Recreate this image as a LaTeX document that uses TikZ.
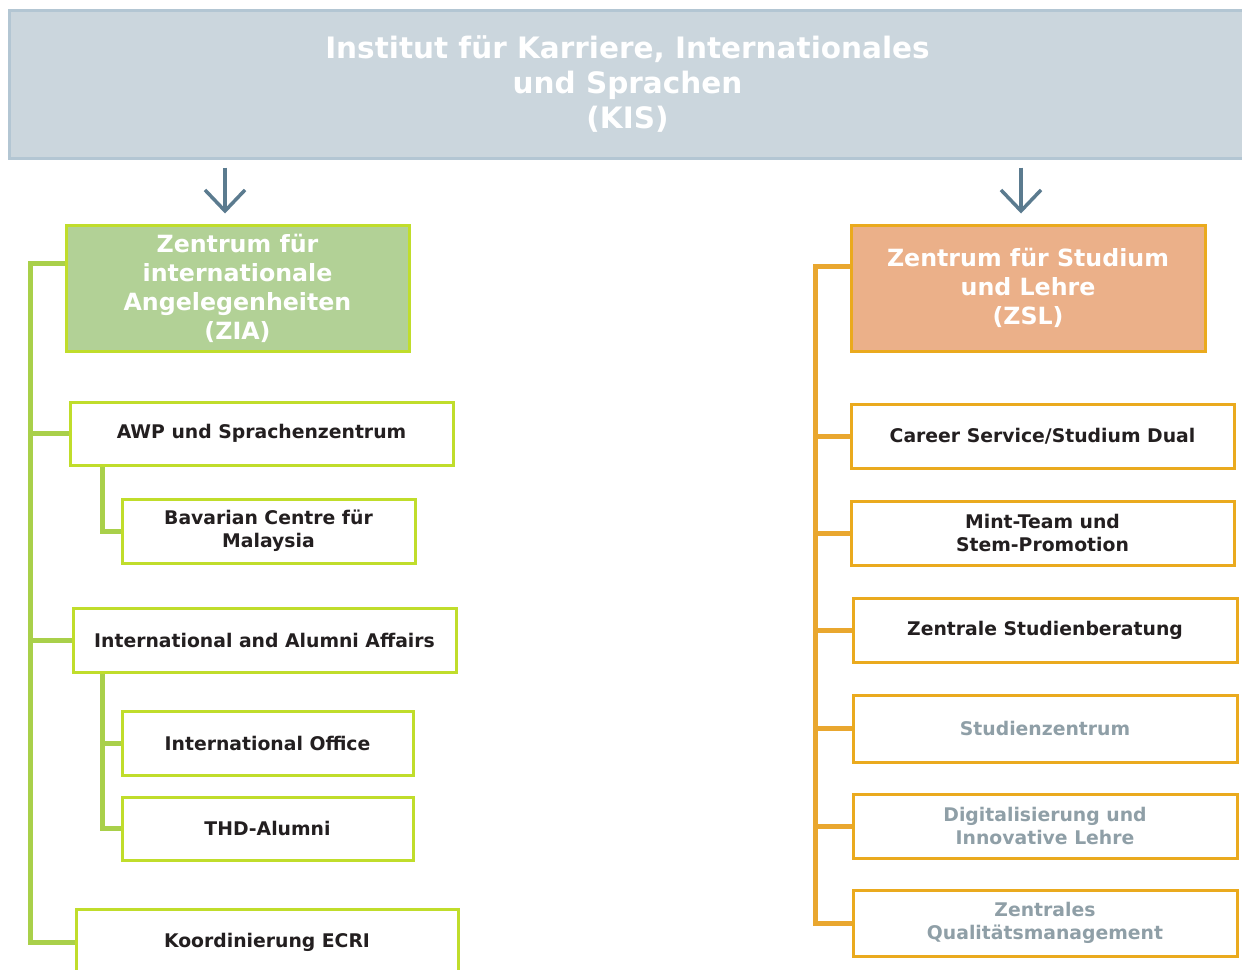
\documentclass[tikz,border=0pt]{standalone}
\usepackage{fontspec}
\setmainfont{DejaVu Sans}
\usetikzlibrary{arrows.meta}

\definecolor{kisfill}{HTML}{CBD6DD}
\definecolor{kisline}{HTML}{B3C6D3}
\definecolor{kisarrow}{HTML}{5B7B8F}
\definecolor{ziafill}{HTML}{B2D196}
\definecolor{zialine}{HTML}{C0DD2B}
\definecolor{ziatrunk}{HTML}{A9D04A}
\definecolor{zslfill}{HTML}{EBB089}
\definecolor{zslline}{HTML}{EAAA1E}
\definecolor{zsltrunk}{HTML}{E9A72F}
\definecolor{unittext}{HTML}{231F20}
\definecolor{greytext}{HTML}{8F9FA7}

\begin{document}
\begin{tikzpicture}[
                    x=1pt, y=-1pt,
                    >={Straight Barb[length=21pt,width=40pt]},
                    kisbox/.style={draw=kisline, line width=3pt, fill=kisfill,
                        text=white, align=center, inner sep=0pt,
                        font=\bfseries\fontsize{29.5}{35}\selectfont},
                    headbox/.style={line width=3pt, text=white, align=center, inner sep=0pt,
                        font=\bfseries\fontsize{23.7}{29}\selectfont},
                    unitbox/.style={line width=3pt, fill=white, text=unittext, align=center,
                        inner sep=0pt, font=\bfseries\fontsize{18.8}{23}\selectfont},
                    ziaunit/.style={unitbox, draw=zialine},
                    zslunit/.style={unitbox, draw=zslline},
                    later/.style={text=greytext},
                    ziatree/.style={draw=ziatrunk, line width=5pt},
                    zsltree/.style={draw=zsltrunk, line width=5pt},
                    kisdrop/.style={->, draw=kisarrow, line width=3.5pt,
                        shorten <=8pt, shorten >=10pt},
                ]
                \useasboundingbox (0,0) rectangle (1242,969);

                % institute
                \node[kisbox, minimum width=1237, minimum height=148] (kis) at (627.5,84)
                    {Institut für Karriere, Internationales\\und Sprachen\\(KIS)};

                % the two centres
                \node[headbox, draw=zialine, fill=ziafill, minimum width=343, minimum height=126]
                    (zia) at (237.5,288) {Zentrum für\\internationale\\Angelegenheiten\\(ZIA)};
                \node[headbox, draw=zslline, fill=zslfill, minimum width=354, minimum height=126]
                    (zsl) at (1028,288) {Zentrum für Studium\\und Lehre\\(ZSL)};

                \coordinate (ziadrop) at (225,0);
                \coordinate (zsldrop) at (1021,0);
                \draw[kisdrop] (kis.south -| ziadrop) -- (zia.north -| ziadrop);
                \draw[kisdrop] (kis.south -| zsldrop) -- (zsl.north -| zsldrop);

                % ZIA units
                \node[ziaunit, minimum width=383, minimum height=63] (awp) at (261.5,433.5)
                    {AWP und Sprachenzentrum};
                \node[ziaunit, minimum width=293, minimum height=64] (bcm) at (268.5,531)
                    {Bavarian Centre für\\Malaysia};
                \node[ziaunit, minimum width=383, minimum height=64] (iaa) at (264.5,640)
                    {International and Alumni Affairs};
                \node[ziaunit, minimum width=291, minimum height=64] (io) at (267.5,743)
                    {International Office};
                \node[ziaunit, minimum width=291, minimum height=63] (thd) at (267.5,828.5)
                    {THD-Alumni};
                \node[ziaunit, minimum width=382, minimum height=66] (ecri) at (267,942)
                    {Koordinierung ECRI};

                % ZSL units
                \node[zslunit, minimum width=383, minimum height=64] (career) at (1042.5,436)
                    {Career Service/Studium Dual};
                \node[zslunit, minimum width=383, minimum height=64] (mint) at (1042.5,533)
                    {Mint-Team und\\Stem-Promotion};
                \node[zslunit, minimum width=384, minimum height=64] (zsb) at (1045,630)
                    {Zentrale Studienberatung};
                \node[zslunit, later, minimum width=384, minimum height=67] (stz) at (1045,728.5)
                    {Studienzentrum};
                \node[zslunit, later, minimum width=384, minimum height=64] (dig) at (1045,826)
                    {Digitalisierung und\\Innovative Lehre};
                \node[zslunit, later, minimum width=384, minimum height=66] (zqm) at (1045,923)
                    {Zentrales\\Qualitätsmanagement};

                % ZIA tree
                \coordinate (ziaroot) at (30,263);
                \draw[ziatree] (zia.west |- ziaroot) -- (ziaroot) |- (ecri.west);
                \foreach \n in {awp,iaa}
                    \draw[ziatree] (ziaroot |- \n.west) -- (\n.west);
                \draw[ziatree] ([xshift=34pt]awp.south west) |- (bcm.west);
                \draw[ziatree] ([xshift=31pt]iaa.south west) |- (thd.west);
                \draw[ziatree] ([xshift=-18pt]io.west) -- (io.west);

                % ZSL tree
                \coordinate (zslroot) at (815,266);
                \draw[zsltree] (zsl.west |- zslroot) -- (zslroot) |- (zqm.west);
                \foreach \n in {career,mint,zsb,stz,dig}
                    \draw[zsltree] (zslroot |- \n.west) -- (\n.west);
            \end{tikzpicture}
\end{document}
